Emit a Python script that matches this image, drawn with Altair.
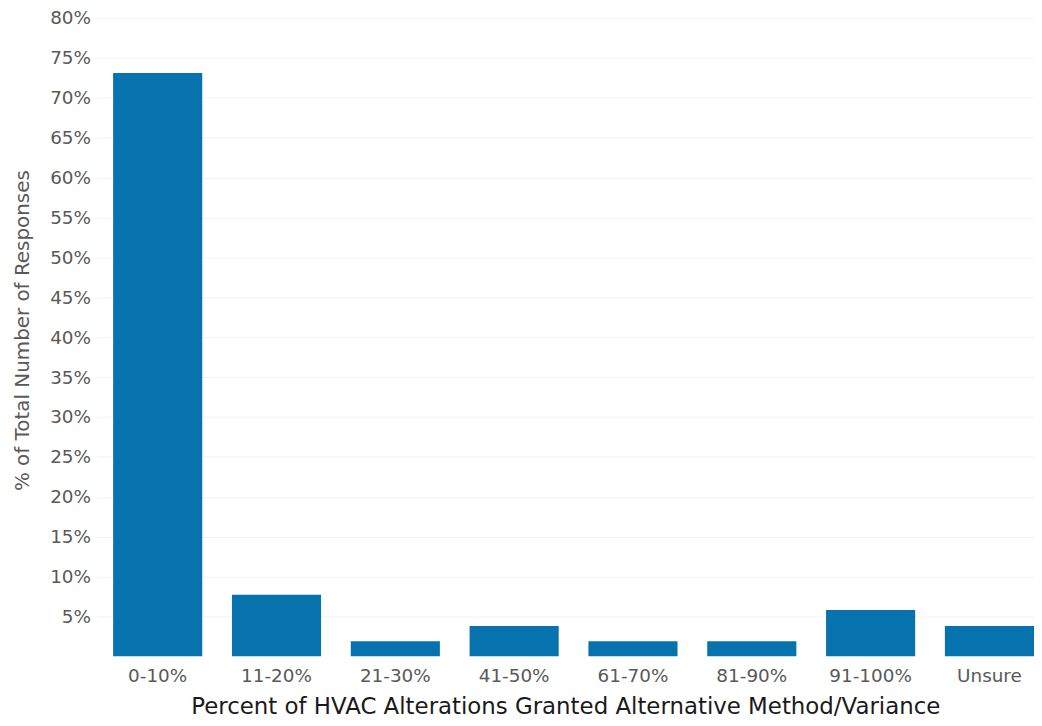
import altair as alt
import pandas as pd

categories = ["0-10%", "11-20%", "21-30%", "41-50%", "61-70%", "81-90%", "91-100%", "Unsure"]
percent_values = [73.1, 7.7, 1.9, 3.8, 1.9, 1.9, 5.8, 3.8]
y_ticks = [5, 10, 15, 20, 25, 30, 35, 40, 45, 50, 55, 60, 65, 70, 75, 80]

df = pd.DataFrame({"category": categories, "pct": percent_values})

FONT = "DejaVu Sans"

chart = alt.Chart(df).mark_bar(color="#0673AE").encode(
    x=alt.X(
        "category:N",
        sort=categories,
        scale=alt.Scale(paddingInner=0.25, paddingOuter=0.07, align=1),
        axis=alt.Axis(
            title="Percent of HVAC Alterations Granted Alternative Method/Variance",
            labelAngle=0,
            labelFontSize=18.5,
            labelColor="#595959",
            labelFont=FONT,
            labelPadding=10,
            ticks=False,
            domain=False,
            titleFont=FONT,
            titleFontSize=23,
            titleFontWeight="normal",
            titleColor="#1a1a1a",
            titlePadding=11,
        ),
    ),
    y=alt.Y(
        "pct:Q",
        scale=alt.Scale(domain=[0, 80], nice=False),
        axis=alt.Axis(
            values=y_ticks,
            labelExpr="datum.value + '%'",
            title="% of Total Number of Responses",
            labelFontSize=18.5,
            labelColor="#595959",
            labelFont=FONT,
            labelPadding=6,
            ticks=False,
            domain=False,
            gridColor="#f3f3f3",
            gridWidth=1,
            titleFont=FONT,
            titleFontSize=20,
            titleFontWeight="normal",
            titleColor="#595959",
            titleX=-64,
            titleY=314,
        ),
    ),
).properties(
    width=943,
    height=642,
    autosize=alt.AutoSizeParams(type="none"),
    padding={"left": 89, "top": 8, "right": 0, "bottom": 60},
).configure_view(stroke=None)

chart.save("out.html", embed_options={"renderer": "svg", "actions": False})
